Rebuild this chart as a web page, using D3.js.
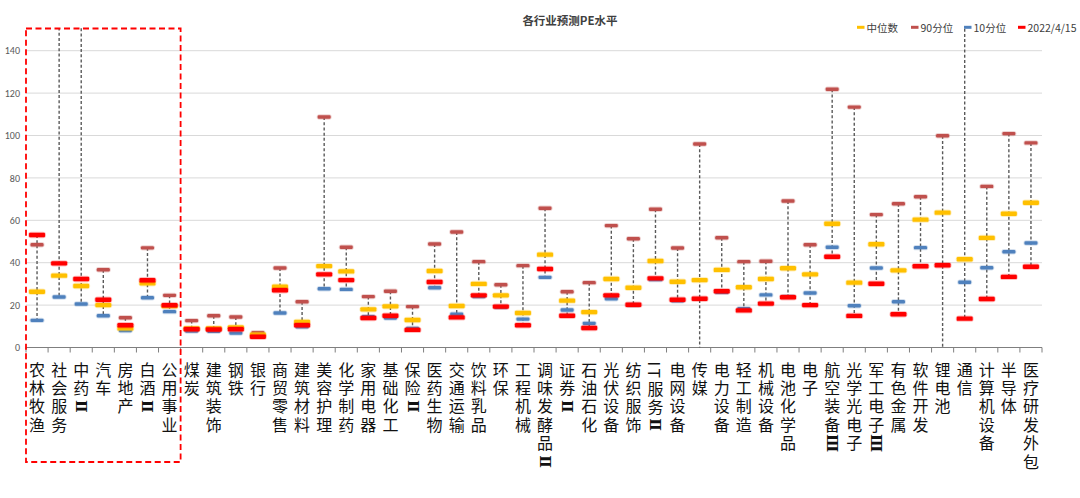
<!DOCTYPE html>
<html><head><meta charset="utf-8">
<script src="https://cdn.jsdelivr.net/npm/d3@7/dist/d3.min.js"></script>
<style>body{margin:0;background:#fff;}svg{display:block;}</style>
</head><body>
<svg id="c" width="1080" height="498"></svg>
<script>
const categories = ["农林牧渔","社会服务","中药Ⅱ","汽车","房地产","白酒Ⅱ","公用事业","煤炭","建筑装饰","钢铁","银行","商贸零售","建筑材料","美容护理","化学制药","家用电器","基础化工","保险Ⅱ","医药生物","交通运输","饮料乳品","环保","工程机械","调味发酵品Ⅱ","证券Ⅱ","石油石化","光伏设备","纺织服饰","IT服务Ⅱ","电网设备","传媒","电力设备","轻工制造","机械设备","电池化学品","电子","航空装备Ⅲ","光学光电子","军工电子Ⅲ","有色金属","软件开发","锂电池","通信","计算机设备","半导体","医疗研发外包"];
const p90 = [48.5,200,180,36.7,14,47,24.6,12.7,15,14.4,7,37.5,21.6,108.7,47.3,24,26.5,19.3,48.8,54.5,40.5,29.6,38.6,65.7,26.3,30.6,57.5,51.3,65.2,46.9,96,51.8,40.5,40.7,69.1,48.5,121.8,113.4,62.7,67.8,71.1,99.9,170,76,100.9,96.5];
const median = [26.3,33.9,29,20,9,30.3,19.5,9,9,9.5,6,28.7,12,38.4,35.9,18,19.4,13,36.1,19.6,30,24.6,16.3,43.8,22.1,16.7,32.3,28.2,40.8,31,31.8,36.6,28.4,32.3,37.4,34.5,58.4,30.6,48.7,36.4,60.3,63.6,41.6,51.7,63.1,68.3];
const p10 = [12.8,23.8,20.5,15,8,23.5,16.9,7.8,7.7,6.8,5.3,16.3,9.8,27.7,27.4,14.5,13.9,9,28.2,15.7,24,19,13.4,33.1,17.7,11.4,23,20,32,22,-15,26,18.3,24.8,24,25.7,47.3,19.7,37.5,21.6,47.1,-20,30.8,37.6,45.2,49.3];
const current = [53.1,39.7,32.3,22.5,10.5,31.7,19.9,8.6,8.5,8.6,5.1,27,10.5,34.5,31.8,13.9,15,8.3,30.9,14.2,24.6,19.3,10.5,37,15,9.2,24.6,20.2,32.6,22.5,23,26.5,17.5,20.7,23.7,20,42.8,14.9,30.1,15.7,38.3,38.8,13.6,22.9,33.3,38.1];
const yTicks = [0,20,40,60,80,100,120,140];
const title = "各行业预测PE水平";
const legendItems = [["中位数","#FFC000"],["90分位","#C0504D"],["10分位","#4F81BD"],["2022/4/15","#FF0000"]];
const highlightCount = 7;

const svg = d3.select("#c");
const L = 26, R = 1042, T = 29.5, B = 347.5;
const x = d3.scaleBand().domain(categories).range([L, R]).padding(0);
const y = d3.scaleLinear().domain([0, 150]).range([B, T]);
const bw = x.bandwidth();
const cx = c => x(c) + bw / 2;

svg.append("defs").append("clipPath").attr("id","plot")
  .append("rect").attr("x", L - 20).attr("y", T - 1.5).attr("width", R - L + 40).attr("height", B - T + 1.5);

// gridlines
svg.append("g").selectAll("line").data(yTicks.filter(d => d > 0)).join("line")
  .attr("x1", L).attr("x2", R).attr("y1", d => y(d)).attr("y2", d => y(d))
  .attr("stroke", "#d9d9d9").attr("stroke-width", 1);

// y axis labels
const ya = svg.append("g").attr("transform", `translate(${L},0)`)
  .call(d3.axisLeft(y).tickValues(yTicks).tickSize(0).tickPadding(6));
ya.select(".domain").remove();
ya.selectAll("text").attr("fill", "#595959").attr("font-size", 10).attr("font-family", "Calibri, Carlito, 'Liberation Sans', sans-serif");

// x axis line + boundary ticks
svg.append("line").attr("x1", L).attr("x2", R).attr("y1", B).attr("y2", B).attr("stroke", "#7f7f7f").attr("stroke-width", 1);
svg.append("g").selectAll("line").data(d3.range(categories.length + 1)).join("line")
  .attr("x1", i => L + i * bw).attr("x2", i => L + i * bw)
  .attr("y1", B).attr("y2", B + 5).attr("stroke", "#7f7f7f").attr("stroke-width", 1);

// data
const rows = categories.map((c, i) => ({c, p90: p90[i], med: median[i], p10: p10[i], cur: current[i]}));
const plot = svg.append("g").attr("clip-path", "url(#plot)");

plot.selectAll("line.hl").data(rows).join("line").attr("class","hl")
  .attr("x1", d => cx(d.c)).attr("x2", d => cx(d.c))
  .attr("y1", d => y(Math.max(d.p90, d.med, d.p10, d.cur)))
  .attr("y2", d => y(Math.min(d.p90, d.med, d.p10, d.cur)))
  .attr("stroke", "#595959").attr("stroke-width", 1.4).attr("stroke-dasharray", "3,2.2");

function markers(key, color, w, h) {
  const g = plot.append("g");
  g.selectAll("rect.glow").data(rows).join("rect").attr("class","glow")
    .attr("x", d => cx(d.c) - w / 2 - 1).attr("y", d => y(d[key]) - h / 2 - 1)
    .attr("width", w + 2).attr("height", h + 2).attr("rx", (h + 2) / 2)
    .attr("fill", color).attr("opacity", 0.25);
  g.selectAll("rect.m").data(rows).join("rect").attr("class","m")
    .attr("x", d => cx(d.c) - w / 2).attr("y", d => y(d[key]) - h / 2)
    .attr("width", w).attr("height", h).attr("rx", 1.2)
    .attr("fill", color);
}
markers("p90", "#C0504D", 13, 3.4);
markers("p10", "#4F81BD", 13, 3.4);
markers("med", "#FFC000", 16, 4.4);
markers("cur", "#FF0000", 16, 4.4);

// category labels: vertical writing, roman numerals turned sideways
const step = 18.4, top0 = 361.5;
const lab = svg.append("g").attr("font-family", "'Noto Sans CJK SC', sans-serif").attr("font-size", 16).attr("fill", "#111");
rows.forEach(d => {
  const m = d.c.match(/^(.*?)([ⅡⅢ]?)$/u);
  const main = m[1], num = m[2];
  lab.append("text").text(main)
    .attr("x", cx(d.c)).attr("y", top0)
    .style("writing-mode", "vertical-rl")
    .style("letter-spacing", (step - 16) + "px");
  if (num) {
    const n = Array.from(main.replace("IT", "I")).length;
    const yy = top0 + n * step + 8;
    lab.append("text").text(num)
      .attr("transform", `translate(${cx(d.c)},${yy}) rotate(90)`)
      .attr("text-anchor", "middle").attr("dominant-baseline", "central")
      .attr("font-family", "'DejaVu Serif', serif")
      .attr("font-weight", "bold").attr("font-size", 15);
  }
});

// highlight box
svg.append("rect").attr("x", L).attr("y", 28.5)
  .attr("width", x(categories[highlightCount]) - L).attr("height", 462 - 28.5)
  .attr("fill", "none").attr("stroke", "#FF0000").attr("stroke-width", 1.8).attr("stroke-dasharray", "6,3.5");

// title
svg.append("text").attr("x", 570).attr("y", 20).attr("text-anchor", "middle").attr("dominant-baseline", "central")
  .attr("font-family", "'Noto Sans CJK SC', sans-serif").attr("font-weight", "bold").attr("font-size", 11.5).attr("fill", "#404040")
  .text(title);

// legend
const lx = [857, 911, 964, 1018];
const lg = svg.append("g");
legendItems.forEach(([t, col], i) => {
  lg.append("rect").attr("x", lx[i]).attr("y", 25.8).attr("width", 7.5).attr("height", 3).attr("fill", col);
  lg.append("text").attr("x", lx[i] + 9.5).attr("y", 27.3).attr("dominant-baseline", "central")
    .attr("font-family", "'Noto Sans CJK SC', sans-serif").attr("font-size", 10.5).attr("fill", "#404040").text(t);
});
</script>
</body></html>
